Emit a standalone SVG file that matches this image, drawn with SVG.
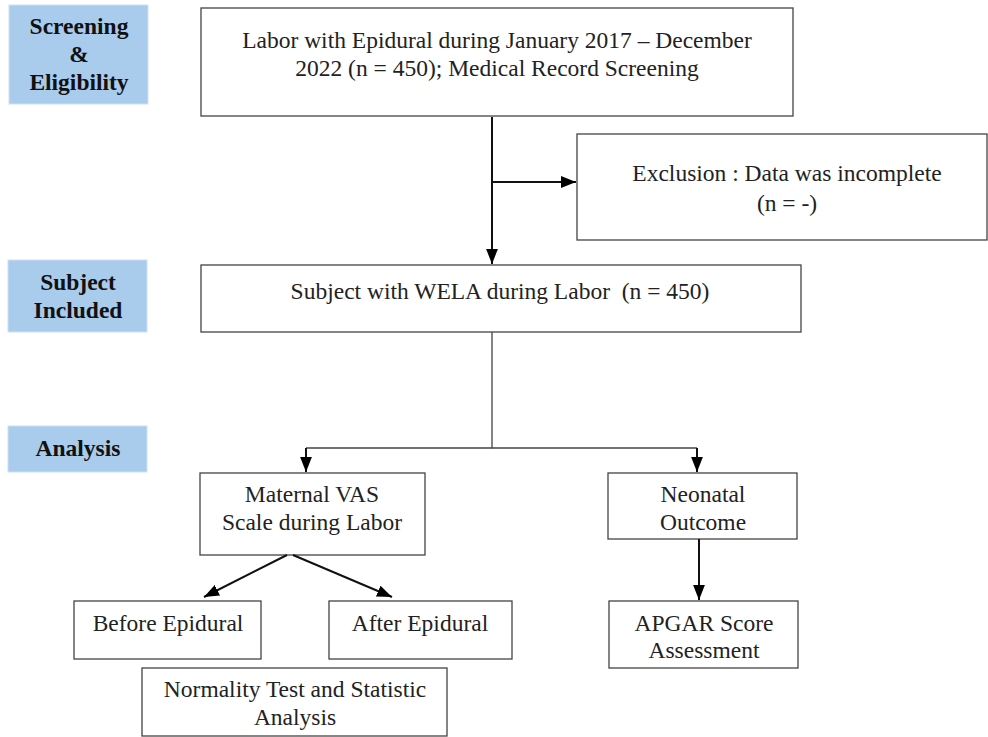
<svg xmlns="http://www.w3.org/2000/svg" width="988" height="737" viewBox="0 0 988 737">
<defs>
<style>
.lbl rect{fill:#a9cbec;stroke:#cfe0f2;stroke-width:1}
.lbl text{font-family:"Liberation Serif","Times New Roman",serif;font-weight:bold;font-size:23.5px;fill:#111;text-anchor:middle}
.box rect{fill:#fff;stroke:#444;stroke-width:1.3}
.box text{font-family:"Liberation Serif","Times New Roman",serif;font-size:23.5px;fill:#222;text-anchor:middle}
.conn path{fill:none;stroke:#111;stroke-width:2}
.conn path.thin{stroke:#444;stroke-width:1.3}
</style>
<marker id="ah" viewBox="0 0 14 11" refX="14" refY="5.5" markerWidth="7.5" markerHeight="6" markerUnits="strokeWidth" orient="auto">
<path d="M0,0 L14,5.5 L0,11 z" fill="#000"/>
</marker>
</defs>
<rect width="988" height="737" fill="#fff"/>
<g id="lbl-screening" class="lbl">
<rect x="9" y="5" width="139" height="99"/>
<text x="79" y="34">Screening</text>
<text x="79" y="62">&amp;</text>
<text x="79" y="90">Eligibility</text>
</g>
<g id="lbl-subject" class="lbl">
<rect x="8" y="260" width="139" height="72"/>
<text x="78" y="290">Subject</text>
<text x="78" y="318">Included</text>
</g>
<g id="lbl-analysis" class="lbl">
<rect x="8" y="426" width="139" height="46"/>
<text x="78" y="456">Analysis</text>
</g>
<g id="n-labor" class="box">
<rect x="201" y="8" width="592" height="108"/>
<text x="497" y="48">Labor with Epidural during January 2017 – December</text>
<text x="497" y="76">2022 (n = 450); Medical Record Screening</text>
</g>
<g id="n-exclusion" class="box">
<rect x="577" y="134" width="410" height="106"/>
<text x="787" y="181">Exclusion : Data was incomplete</text>
<text x="787" y="211">(n = -)</text>
</g>
<g id="n-subject" class="box">
<rect x="201" y="265" width="600" height="67"/>
<text x="500" y="299" style="white-space:pre">Subject with WELA during Labor  (n = 450)</text>
</g>
<g id="n-maternal" class="box">
<rect x="200" y="473" width="225" height="82"/>
<text x="312" y="502">Maternal VAS</text>
<text x="312" y="530">Scale during Labor</text>
</g>
<g id="n-neonatal" class="box">
<rect x="608" y="473" width="189" height="66"/>
<text x="703" y="502">Neonatal</text>
<text x="703" y="530">Outcome</text>
</g>
<g id="n-before" class="box">
<rect x="74" y="601" width="187" height="58"/>
<text x="168" y="631">Before Epidural</text>
</g>
<g id="n-after" class="box">
<rect x="329" y="601" width="183" height="58"/>
<text x="420" y="631">After Epidural</text>
</g>
<g id="n-apgar" class="box">
<rect x="609" y="601" width="189" height="67"/>
<text x="704" y="631">APGAR Score</text>
<text x="704" y="658">Assessment</text>
</g>
<g id="n-normality" class="box">
<rect x="142" y="668" width="305" height="68"/>
<text x="295" y="697">Normality Test and Statistic</text>
<text x="295" y="725">Analysis</text>
</g>
<g id="connectors" class="conn">
<path d="M492,117 V264" marker-end="url(#ah)"/>
<path d="M492,182 H576" marker-end="url(#ah)"/>
<path class="thin" d="M492,332 V448 H306"/>
<path class="thin" d="M492,448 H697"/>
<path d="M306,448 V472" marker-end="url(#ah)"/>
<path d="M697,448 V472" marker-end="url(#ah)"/>
<path d="M699,539 V600" marker-end="url(#ah)"/>
<path d="M287,555 L204,597" marker-end="url(#ah)"/>
<path d="M293,555 L392,597" marker-end="url(#ah)"/>
</g>
</svg>
